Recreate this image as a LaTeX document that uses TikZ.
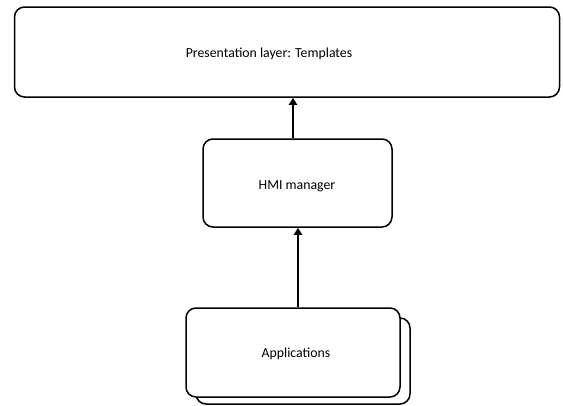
\documentclass[tikz,border=0pt]{standalone}
\usepackage{fontspec}
\setmainfont{Carlito}
\usetikzlibrary{arrows.meta}
\begin{document}
\begin{tikzpicture}[x=1pt,y=-1pt,
  box/.style={draw,line width=1.5pt,rounded corners=10pt,fill=white,inner sep=0pt},
  conn/.style={line width=2.8pt,-{Triangle[length=7pt,width=8pt]}},
  lbl/.style={font=\fontsize{13.8}{16}\selectfont}]
\useasboundingbox (0,0) rectangle (563,405);
\node[box,minimum width=545pt,minimum height=90pt] (pres) at (287,52) {};
\node[lbl] (prest) at (269,54) {Presentation layer: Templates};
\node[box,minimum width=189pt,minimum height=88pt] (hmi) at (297.5,183) {};
\node[lbl] (hmit) at (297,186) {HMI manager};
\node[box,minimum width=214pt,minimum height=86pt] (appb) at (303,361) {};
\node[box,minimum width=214pt,minimum height=89pt] (app) at (293,352.5) {};
\node[lbl] (appt) at (296,354) {Applications};
\draw[conn] (hmi.north -| 293,0) -- (pres.south -| 293,0);
\draw[conn] (app.north -| 298,0) -- (hmi.south -| 298,0);
\end{tikzpicture}
\end{document}
